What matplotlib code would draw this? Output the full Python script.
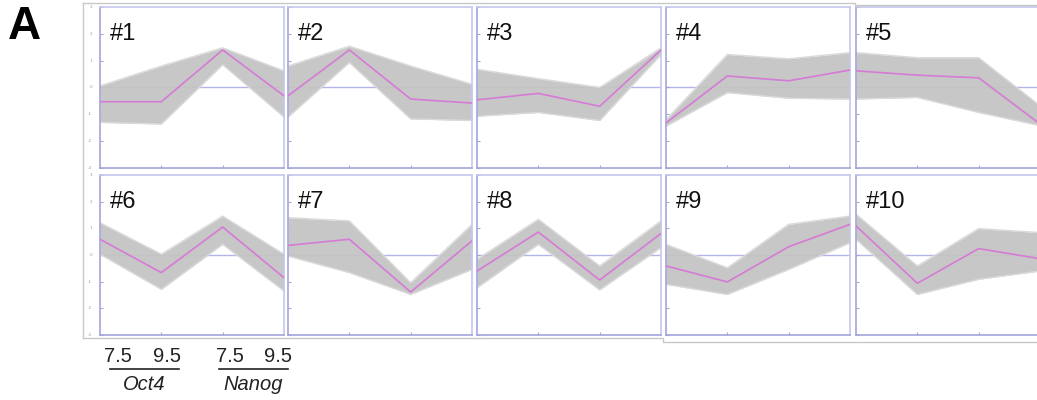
import matplotlib.pyplot as plt
from matplotlib.lines import Line2D

# four time points: Oct4 E7.5, Oct4 E9.5, Nanog E7.5, Nanog E9.5
x_pos = [0, 1, 2, 3]
cluster_names = ["#1", "#2", "#3", "#4", "#5", "#6", "#7", "#8", "#9", "#10"]

# magenta centroid of each cluster
centroids = [
    [-0.53, -0.53, 1.40, -0.31],
    [-0.31, 1.40, -0.43, -0.58],
    [-0.46, -0.22, -0.70, 1.40],
    [-1.32, 0.43, 0.25, 0.65],
    [0.62, 0.46, 0.36, -1.36],
    [0.59, -0.66, 1.05, -0.85],
    [0.36, 0.59, -1.39, 0.53],
    [-0.60, 0.86, -0.94, 0.81],
    [-0.41, -1.01, 0.31, 1.15],
    [1.09, -1.06, 0.24, -0.14],
]

# upper / lower envelope of the grey member profiles
upper = [
    [0.06, 0.80, 1.48, 0.62],
    [0.80, 1.54, 0.80, 0.12],
    [0.68, 0.33, 0.00, 1.48],
    [-1.20, 1.23, 1.07, 1.30],
    [1.30, 1.11, 1.11, -0.68],
    [1.21, 0.03, 1.46, 0.03],
    [1.40, 1.28, -1.04, 1.15],
    [-0.16, 1.34, -0.41, 1.28],
    [0.40, -0.48, 1.15, 1.46],
    [1.53, -0.41, 0.99, 0.84],
]
lower = [
    [-1.30, -1.36, 0.85, -1.10],
    [-1.10, 0.93, -1.17, -1.23],
    [-1.07, -0.93, -1.23, 1.23],
    [-1.44, -0.19, -0.40, -0.43],
    [-0.43, -0.37, -0.93, -1.42],
    [0.03, -1.29, 0.40, -1.35],
    [-0.04, -0.66, -1.48, -0.54],
    [-1.23, 0.40, -1.31, 0.28],
    [-1.10, -1.48, -0.54, 0.46],
    [0.59, -1.48, -0.91, -0.60],
]

y_ticks = [-3, -2, -1, 0, 1, 2, 3]
stage_labels = ["7.5", "9.5", "7.5", "9.5"]
gene_labels = ["Oct4", "Nanog"]

W, H = 1037, 400
FRAME = "#c6c6ec"
SPINE = "#a4a4dc"
MAGENTA = "#d67ad6"
GREY = "#c4c4c4"


def px_box(x0, y0, x1, y1):
    # pixel box (top-left origin) -> figure fraction rect
    return [x0 / W, 1 - y1 / H, (x1 - x0) / W, (y1 - y0) / H]


def fig_line(fig, xs, ys, **kw):
    fig.add_artist(Line2D([x / W for x in xs], [1 - y / H for y in ys],
                          transform=fig.transFigure, **kw))


def plot_cluster(ax, name, mean, hi, lo):
    ax.axhline(0, color="#b4b4ec", lw=1.0, zorder=1)
    ax.fill_between(x_pos, lo, hi, color=GREY, lw=0, alpha=0.95, zorder=2)
    ax.plot(x_pos, hi, color="#dadada", lw=1.0, zorder=2)
    ax.plot(x_pos, lo, color="#dadada", lw=1.0, zorder=2)
    ax.plot(x_pos, mean, color=MAGENTA, lw=1.2, zorder=3)
    ax.set_xlim(0, 3)
    ax.set_ylim(-3, 3)
    ax.set_xticks([1, 2])
    ax.set_yticks(y_ticks)
    ax.tick_params(direction="in", length=2, width=0.8, colors=SPINE,
                   labelleft=False, labelbottom=False)
    for side, sp in ax.spines.items():
        sp.set_color(SPINE if side in ("left", "bottom") else FRAME)
        sp.set_linewidth(1.2)
    ax.text(0.055, 0.9, name, transform=ax.transAxes, ha="left", va="top",
            fontsize=17, family="Liberation Sans", color="#111111")


def main():
    fig = plt.figure(figsize=(W / 100, H / 100), dpi=100)

    lefts = [100, 288, 477, 666, 856]
    rows = [(7, 168), (175, 335)]
    for i, name in enumerate(cluster_names):
        r, c = divmod(i, 5)
        y0, y1 = rows[r]
        ax = fig.add_axes(px_box(lefts[c], y0, lefts[c] + 184, y1))
        plot_cluster(ax, name, centroids[i], upper[i], lower[i])

    # outer light frame of the figure panel
    kw = dict(color="#c8c8c8", lw=1.0)
    fig_line(fig, [83, 83], [3, 338], **kw)
    fig_line(fig, [83, 855, 855, 1037], [3, 3, 5, 5], **kw)
    fig_line(fig, [83, 663, 663, 1037], [338, 338, 342, 342], **kw)

    # tiny y-axis numbers on the outer frame
    for r, (y0, y1) in enumerate(rows):
        for t in y_ticks:
            yp = y0 + (3 - t) / 6 * (y1 - y0)
            fig.text(92 / W, 1 - yp / H, str(t), fontsize=3, color="#999999",
                     ha="right", va="center")

    fig.text(8 / W, 1 - 27 / H, "A", fontsize=33, fontweight="bold",
             family="Liberation Sans", va="center", ha="left")

    # stage / gene annotation under the first panel
    stage_x = [118, 167, 230, 278]
    for xp, lab in zip(stage_x, stage_labels):
        fig.text(xp / W, 1 - 356 / H, lab, fontsize=14.5, ha="center",
                 va="center", family="Liberation Sans", color="#222222")
    for (xa, xb), gene in zip([(110, 179), (219, 288)], gene_labels):
        fig_line(fig, [xa, xb], [369, 369], color="#222222", lw=1.2)
        fig.text((xa + xb) / 2 / W, 1 - 385 / H, gene, fontsize=14.5,
                 style="italic", ha="center", va="center",
                 family="Liberation Sans", color="#222222")

    fig.savefig("out.png", dpi=100)


if __name__ == "__main__":
    main()
